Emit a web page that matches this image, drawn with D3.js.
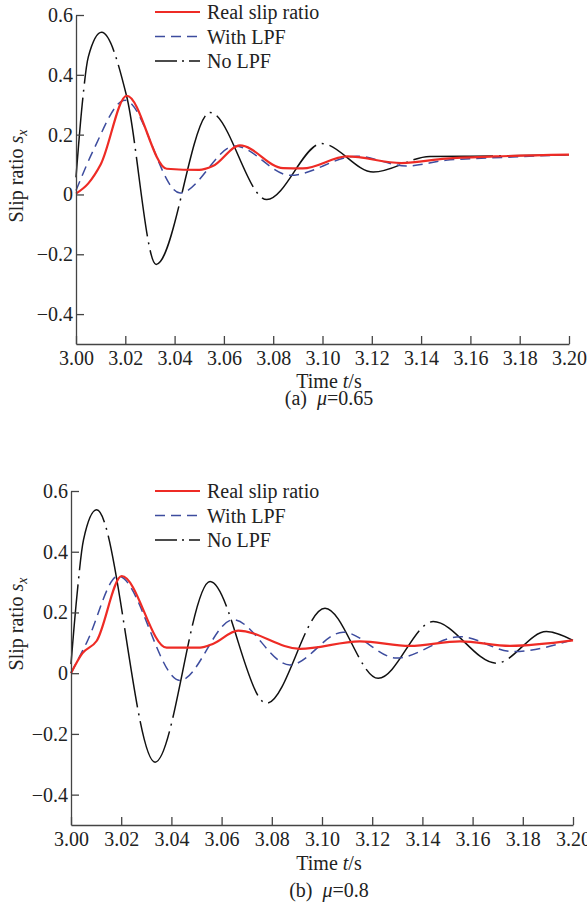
<!DOCTYPE html>
<html>
<head>
<meta charset="utf-8">
<script src="https://cdn.jsdelivr.net/npm/d3@7"></script>
<style>
  body { margin: 0; background: #fff; }
  svg { display: block; }
</style>
</head>
<body>
<svg id="chart"></svg>
<script>
// tick values shared by both panels
var timeTicks = [3.00, 3.02, 3.04, 3.06, 3.08, 3.10, 3.12, 3.14, 3.16, 3.18, 3.20];
var slipTicks = [-0.4, -0.2, 0, 0.2, 0.4, 0.6];
var seriesNames = ["Real slip ratio", "With LPF", "No LPF"];

// (a) mu = 0.65   [time, slip]
var realA = [[3.000, 0.003], [3.005, 0.037], [3.010, 0.100], [3.0206, 0.330], [3.0368, 0.086],
  [3.050, 0.082], [3.0555, 0.095], [3.0665, 0.164], [3.084, 0.088], [3.092, 0.087],
  [3.110, 0.127], [3.132, 0.105], [3.150, 0.120], [3.170, 0.127], [3.200, 0.133]];
var lpfA = [[3.000, 0.013], [3.007, 0.147], [3.0199, 0.315], [3.0422, 0.005], [3.0645, 0.162],
  [3.087, 0.064], [3.1139, 0.128], [3.134, 0.095], [3.150, 0.114], [3.177, 0.125], [3.200, 0.133]];
var noLpfA = [[3.000, 0.057], [3.0025, 0.30], [3.005, 0.46], [3.0104, 0.542], [3.0205, 0.33],
  [3.0325, -0.234], [3.0544, 0.274], [3.0774, -0.017], [3.0997, 0.170], [3.1206, 0.075],
  [3.1436, 0.127], [3.160, 0.128], [3.200, 0.133]];

// (b) mu = 0.8
var realB = [[3.000, 0.000], [3.0045, 0.065], [3.0102, 0.106], [3.0202, 0.320], [3.0381, 0.084],
  [3.0514, 0.084], [3.0567, 0.097], [3.0666, 0.140], [3.0912, 0.080], [3.1151, 0.105],
  [3.135, 0.090], [3.155, 0.105], [3.175, 0.090], [3.200, 0.108]];
var lpfB = [[3.000, 0.000], [3.0062, 0.100], [3.0188, 0.320], [3.0434, -0.024], [3.0646, 0.176],
  [3.0872, 0.027], [3.1084, 0.135], [3.1297, 0.050], [3.155, 0.120], [3.1762, 0.071], [3.200, 0.110]];
var noLpfB = [[3.000, 0.030], [3.0023, 0.25], [3.005, 0.44], [3.0102, 0.538], [3.0335, -0.293],
  [3.0554, 0.302], [3.0779, -0.099], [3.1012, 0.214], [3.1224, -0.017], [3.1443, 0.170],
  [3.1695, 0.033], [3.1894, 0.137], [3.200, 0.108]];

var captionA = ["(a)", "0.65"];
var captionB = ["(b)", "0.8"];

var pageWidth = 587;
var pageHeight = 906;
var fontFamily = "'Liberation Serif', 'Times New Roman', serif";
var textColor = "#222";
var styles = [
  { color: "#ee2b25", width: 2.2, dash: null, legendDash: null },
  { color: "#3d4c9e", width: 1.5, dash: "10,6", legendDash: "10,6" },
  { color: "#111", width: 1.5, dash: "80,6,2,6", legendDash: "22,5,2,5" }
];

var svg = d3.select("#chart")
  .attr("width", pageWidth)
  .attr("height", pageHeight)
  .attr("font-family", fontFamily);

drawPanel({ left: 76, right: 569, top: 15, bottom: 344, legendY: 12,
  series: [realA, lpfA, noLpfA], caption: captionA, labelY: 176,
  timeBase: 388, captionBase: 405, centerX: 329 });

drawPanel({ left: 71, right: 573, top: 491, bottom: 825, legendY: 491,
  series: [realB, lpfB, noLpfB], caption: captionB, labelY: 624,
  timeBase: 870, captionBase: 897, centerX: 329 });

function drawPanel(p) {
  var x = d3.scaleLinear().domain([3.00, 3.20]).range([p.left, p.right]);
  var y = d3.scaleLinear().domain([-0.5, 0.6]).range([p.bottom, p.top]);

  var g = svg.append("g");

  var line = d3.line()
    .x(function(d) { return x(d[0]) })
    .y(function(d) { return y(d[1]) })
    .curve(d3.curveMonotoneX);

  // draw black first, then blue, red on top
  [2, 1, 0].forEach(function(i) {
    var path = g.append("path")
      .datum(p.series[i])
      .attr("d", line)
      .attr("fill", "none")
      .attr("stroke", styles[i].color)
      .attr("stroke-width", styles[i].width)
      .attr("stroke-linejoin", "round");
    if (styles[i].dash) path.attr("stroke-dasharray", styles[i].dash);
  });

  var xAxis = d3.axisBottom(x)
    .tickValues(timeTicks)
    .tickSizeInner(-8)
    .tickSizeOuter(0)
    .tickPadding(7)
    .tickFormat(d3.format(".2f"));

  var yAxis = d3.axisLeft(y)
    .tickValues(slipTicks)
    .tickSizeInner(-8)
    .tickSizeOuter(0)
    .tickPadding(3)
    .tickFormat(function(d) { return d === 0 ? "0" : d3.format(".1f")(d) });

  [g.append("g").attr("transform", "translate(0," + p.bottom + ")").call(xAxis),
   g.append("g").attr("transform", "translate(" + p.left + ",0)").call(yAxis)]
    .forEach(function(a) {
      a.attr("font-family", fontFamily).attr("font-size", 20);
      a.selectAll("path, line").attr("stroke", "#444").attr("stroke-width", 1.3);
      a.selectAll("text").attr("fill", textColor);
    });

  // y label, rotated
  var yl = g.append("text")
    .attr("transform", "translate(23," + p.labelY + ") rotate(-90)")
    .attr("text-anchor", "middle")
    .attr("font-size", 20)
    .attr("fill", textColor);
  yl.append("tspan").text("Slip ratio ");
  yl.append("tspan").attr("font-style", "italic").text("s");
  yl.append("tspan").attr("font-style", "italic").attr("font-size", 14).attr("dy", 4).text("x");

  var xl = g.append("text")
    .attr("x", p.centerX)
    .attr("y", p.timeBase)
    .attr("text-anchor", "middle")
    .attr("font-size", 20)
    .attr("fill", textColor);
  xl.append("tspan").text("Time ");
  xl.append("tspan").attr("font-style", "italic").text("t");
  xl.append("tspan").text("/s");

  var cap = g.append("text")
    .attr("x", p.centerX)
    .attr("y", p.captionBase)
    .attr("text-anchor", "middle")
    .attr("font-size", 20)
    .attr("fill", textColor);
  cap.append("tspan").text(p.caption[0] + "\u00a0\u00a0");
  cap.append("tspan").attr("font-style", "italic").text("\u03bc");
  cap.append("tspan").text("=" + p.caption[1]);

  // legend
  seriesNames.forEach(function(name, i) {
    var ly = p.legendY + i * 24.5;
    var l = g.append("line")
      .attr("x1", 155).attr("x2", 200)
      .attr("y1", ly).attr("y2", ly)
      .attr("stroke", styles[i].color)
      .attr("stroke-width", styles[i].width);
    if (styles[i].legendDash) l.attr("stroke-dasharray", styles[i].legendDash);
    g.append("text")
      .attr("x", 207)
      .attr("y", ly + 7)
      .attr("font-size", 20)
      .attr("fill", textColor)
      .text(name);
  });
}
</script>
</body>
</html>
